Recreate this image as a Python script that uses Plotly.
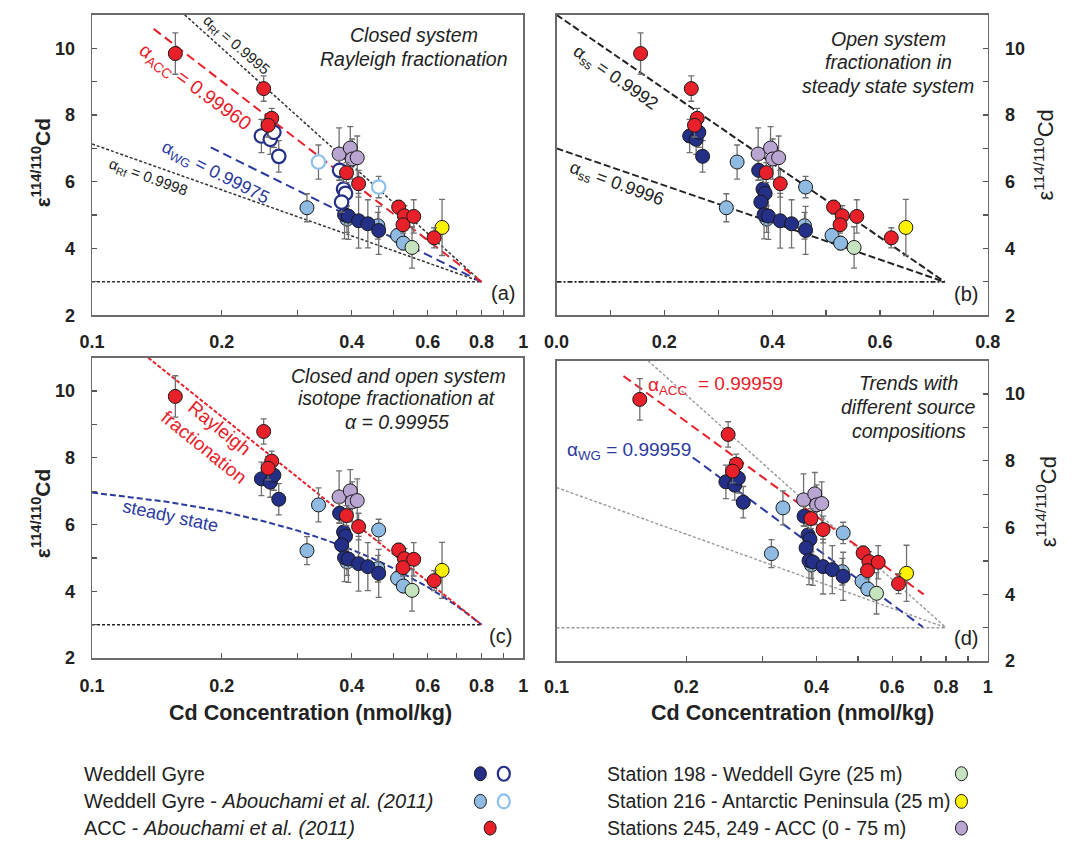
import plotly.graph_objects as go

W, H = 1073, 845
FONT = "Liberation Sans, Arial, sans-serif"

# ---------------- data ----------------
# Weddell Gyre (this study)
wg_x = [0.247, 0.259, 0.264, 0.271, 0.375, 0.383, 0.387, 0.379, 0.385, 0.393, 0.415, 0.436, 0.462]
wg_y = [7.37, 7.27, 7.48, 6.76, 6.34, 5.78, 5.65, 5.39, 5.01, 4.97, 4.83, 4.74, 4.54]
wg_err = [0.5, 0.45, 0.45, 0.47, 0.3, 0.3, 0.3, 0.3, 0.72, 0.7, 0.82, 0.72, 0.72]
wg_open = [1, 1, 1, 1, 1, 1, 1, 1, 0, 0, 0, 0, 0]

# Weddell Gyre - Abouchami et al. (2011)
wga_x = [0.315, 0.335, 0.390, 0.460, 0.462, 0.511, 0.527]
wga_y = [5.22, 6.59, 4.88, 4.68, 5.84, 4.39, 4.16]
wga_err = [0.42, 0.51, 0.4, 0.4, 0.32, 0.2, 0.2]
wga_open = [0, 1, 0, 0, 1, 0, 0]

# ACC - Abouchami et al. (2011)
acc_x = [0.156, 0.250, 0.261, 0.256, 0.389, 0.415, 0.514, 0.530, 0.526, 0.557, 0.621]
acc_y = [9.84, 8.79, 7.90, 7.69, 6.27, 5.94, 5.24, 4.98, 4.71, 4.96, 4.32]
acc_err = [0.62, 0.38, 0.3, 0.35, 0.3, 0.4, 0.2, 0.3, 0.25, 0.5, 0.3]

# Station 198, Station 216, Stations 245/249
s198_x, s198_y, s198_err = [0.552], [4.03], [0.62]
s216_x, s216_y, s216_err = [0.648], [4.63], [0.84]
s245_x = [0.374, 0.397, 0.401, 0.412]
s245_y = [6.83, 7.01, 6.68, 6.72]
s245_err = [0.78, 0.64, 0.6, 0.65]

# model lines
a_rf95_x, a_rf95_y = [0.164, 0.8], [11.0, 3.0]
a_acc_x, a_acc_y = [0.139, 0.8], [10.58, 3.0]
a_wg_x, a_wg_y = [0.1885, 0.8], [7.03, 3.0]
a_rf98_x, a_rf98_y = [0.1, 0.8], [7.13, 3.0]
a_base_x, a_base_y = [0.1, 0.8], [3.0, 3.0]

b_ss92_x, b_ss92_y = [0.0, 0.72], [11.0, 3.0]
b_ss96_x, b_ss96_y = [0.0, 0.72], [7.0, 3.0]
b_base_x, b_base_y = [0.0, 0.72], [3.0, 3.0]

c_ray_x, c_ray_y = [0.135, 0.8], [11.0, 3.0]
c_ss_x = [0.1, 0.15, 0.2, 0.25, 0.3, 0.35, 0.4, 0.45, 0.5, 0.55, 0.6, 0.65, 0.7, 0.75, 0.8]
c_ss_y = [6.96, 6.68, 6.40, 6.10, 5.82, 5.53, 5.25, 4.97, 4.69, 4.41, 4.13, 3.85, 3.57, 3.28, 3.0]
c_base_x, c_base_y = [0.1, 0.8], [3.0, 3.0]

d_up_x, d_up_y = [0.163, 0.8], [11.0, 3.0]
d_lo_x, d_lo_y = [0.1, 0.8], [7.2, 3.0]
d_base_x, d_base_y = [0.1, 0.8], [3.0, 3.0]
d_acc_x, d_acc_y = [0.143, 0.71], [10.54, 4.0]
d_wg_x, d_wg_y = [0.207, 0.707], [8.1, 3.02]

# ticks (labelled + unlabelled minor)
log_ticks = [0.1, 0.2, 0.4, 0.6, 0.8, 1.0]
log_labels = ["0.1", "0.2", "0.4", "0.6", "0.8", "1"]
log_minor = [0.3, 0.5, 0.7, 0.9]
lin_ticks = [0.0, 0.2, 0.4, 0.6, 0.8]
lin_labels = ["0.0", "0.2", "0.4", "0.6", "0.8"]
lin_minor = [0.1, 0.3, 0.5, 0.7]
y_ticks = [2, 4, 6, 8, 10]
y_labels = ["2", "4", "6", "8", "10"]
y_minor = [3, 5, 7, 9, 11]

# ---------------- styles ----------------
C_DB = "#242f88"
C_LB = "#8fbbe3"
C_LB_OPEN = "#8cc0ee"
C_RED = "#e8202a"
C_GREEN = "#c6e3c0"
C_YEL = "#fff200"
C_PUR = "#b9a5d1"
C_BLUE_TXT = "#2b3a9e"
ERR = dict(type="data", visible=True, color="#707070", thickness=1.3, width=3)

fig = go.Figure()


def line(xs, ys, xa, ya, color, dash, width=1.6):
    fig.add_trace(go.Scatter(x=xs, y=ys, mode="lines", xaxis=xa, yaxis=ya,
                             line=dict(color=color, dash=dash, width=width),
                             showlegend=False, hoverinfo="skip"))


def pts(xs, ys, es, xa, ya, fill, edge="#1a1a1a", ew=1.0, size=14):
    if not xs:
        return
    fig.add_trace(go.Scatter(x=xs, y=ys, mode="markers", xaxis=xa, yaxis=ya,
                             error_y=dict(ERR, array=es),
                             marker=dict(size=size, color=fill, line=dict(color=edge, width=ew)),
                             showlegend=False))


def sub(vals, flags, want):
    return [v for v, f in zip(vals, flags) if f == want]


def points(xa, ya, split_open=False):
    pts(s245_x, s245_y, s245_err, xa, ya, C_PUR)
    if split_open:
        pts(sub(wga_x, wga_open, 0), sub(wga_y, wga_open, 0), sub(wga_err, wga_open, 0), xa, ya, C_LB)
        pts(sub(wga_x, wga_open, 1), sub(wga_y, wga_open, 1), sub(wga_err, wga_open, 1), xa, ya,
            "white", C_LB_OPEN, 2.2, 13.5)
        pts(sub(wg_x, wg_open, 0), sub(wg_y, wg_open, 0), sub(wg_err, wg_open, 0), xa, ya, C_DB)
        pts(sub(wg_x, wg_open, 1), sub(wg_y, wg_open, 1), sub(wg_err, wg_open, 1), xa, ya,
            "white", C_DB, 2.2, 13.5)
    else:
        pts(wga_x, wga_y, wga_err, xa, ya, C_LB)
        pts(wg_x, wg_y, wg_err, xa, ya, C_DB)
    pts(s198_x, s198_y, s198_err, xa, ya, C_GREEN)
    pts(s216_x, s216_y, s216_err, xa, ya, C_YEL)
    pts(acc_x, acc_y, acc_err, xa, ya, C_RED)


# panel a
line(a_base_x, a_base_y, "x", "y", "#333", "3px,2px", 1.5)
line(a_rf98_x, a_rf98_y, "x", "y", "#333", "3px,2px", 1.5)
line(a_rf95_x, a_rf95_y, "x", "y", "#333", "3px,2px", 1.5)
line(a_wg_x, a_wg_y, "x", "y", C_BLUE_TXT, "9px,5px", 2)
line(a_acc_x, a_acc_y, "x", "y", C_RED, "9px,5px", 2)
points("x", "y", split_open=True)

# panel b
line(b_base_x, b_base_y, "x2", "y2", "#222", "5px,2px,2px,2px", 1.8)
line(b_ss96_x, b_ss96_y, "x2", "y2", "#222", "7px,3px", 2)
line(b_ss92_x, b_ss92_y, "x2", "y2", "#222", "7px,3px", 2)
points("x2", "y2")

# panel c
line(c_base_x, c_base_y, "x3", "y3", "#222", "3px,2px", 1.6)
line(c_ss_x, c_ss_y, "x3", "y3", C_BLUE_TXT, "6px,3px", 2)
line(c_ray_x, c_ray_y, "x3", "y3", C_RED, "4px,2px", 2)
points("x3", "y3")

# panel d
line(d_base_x, d_base_y, "x4", "y4", "#999", "3px,2px", 1.4)
line(d_lo_x, d_lo_y, "x4", "y4", "#999", "3px,2px", 1.4)
line(d_up_x, d_up_y, "x4", "y4", "#999", "3px,2px", 1.4)
line(d_wg_x, d_wg_y, "x4", "y4", C_BLUE_TXT, "9px,5px", 2)
line(d_acc_x, d_acc_y, "x4", "y4", C_RED, "9px,5px", 2)
points("x4", "y4")

# ---------------- axes ----------------
TICKFONT = dict(family=FONT, size=18, color="#222", weight="bold")


def ax(minor_vals, **kw):
    base = dict(showline=True, linecolor="#6b6b6b", linewidth=1.5, mirror=True,
                ticks="inside", ticklen=5, tickwidth=1.2, tickcolor="#555",
                showgrid=False, zeroline=False, tickfont=TICKFONT,
                minor=dict(tickmode="array", tickvals=minor_vals, ticks="inside",
                           ticklen=5, tickwidth=1.2, tickcolor="#555", showgrid=False))
    base.update(kw)
    return base


def px(x):
    return x / W


def py(y):
    return 1 - y / H


XL = [px(81), px(523)]
XR = [px(557), px(999)]
YT = [py(319), py(15)]
YC = [py(666), py(362)]
YD = [py(669), py(365)]

fig.update_layout(
    width=W, height=H, margin=dict(l=0, r=0, t=0, b=0),
    paper_bgcolor="white", plot_bgcolor="white", showlegend=False,
    xaxis=ax(log_minor, domain=XL, anchor="y", type="log", range=[-1, 0], tickvals=log_ticks,
             ticktext=log_labels, ticklabelstandoff=10),
    yaxis=ax(y_minor, domain=YT, anchor="x", range=[2, 11], tickvals=y_ticks, ticktext=y_labels,
             ticklabelstandoff=12),
    xaxis2=ax(lin_minor, domain=XR, anchor="y2", range=[0, 0.8], tickvals=lin_ticks,
              ticktext=lin_labels, ticklabelstandoff=10),
    yaxis2=ax(y_minor, domain=YT, anchor="x2", side="right", range=[2, 11], tickvals=y_ticks,
              ticktext=y_labels, ticklabelstandoff=12),
    xaxis3=ax(log_minor, domain=XL, anchor="y3", type="log", range=[-1, 0], tickvals=log_ticks,
              ticktext=log_labels, ticklabelstandoff=11),
    yaxis3=ax(y_minor, domain=YC, anchor="x3", range=[2, 11], tickvals=y_ticks, ticktext=y_labels,
              ticklabelstandoff=12),
    xaxis4=ax(log_minor, domain=XR, anchor="y4", type="log", range=[-1, 0], tickvals=log_ticks,
              ticktext=log_labels, ticklabelstandoff=9),
    yaxis4=ax(y_minor, domain=YD, anchor="x4", side="right", range=[2, 11], tickvals=y_ticks,
              ticktext=y_labels, ticklabelstandoff=12),
)

# ---------------- annotations ----------------
anns = []


def note(text, x, y, size=19.5, color="#222", angle=0, xanchor="center", weight="normal"):
    anns.append(dict(text=text, x=px(x), y=py(y), xref="paper", yref="paper",
                     showarrow=False, xanchor=xanchor, yanchor="middle", textangle=angle,
                     font=dict(family=FONT, size=size, color=color, weight=weight)))


# panel headers
note("<i>Closed system</i>", 411, 35)
note("<i>Rayleigh fractionation</i>", 411, 60)
note("<i>Open system</i>", 897, 39)
note("<i>fractionation in</i>", 897, 63)
note("<i>steady state system</i>", 897, 87)
note("<i>Closed and open system</i>", 395, 380)
note("<i>isotope fractionation at</i>", 394, 403)
note("<i>α = 0.99955</i>", 394, 427)
note("<i>Trends with</i>", 918, 388)
note("<i>different source</i>", 918, 412)
note("<i>compositions</i>", 918, 436)

note("(a)", 502, 297, 20)
note("(b)", 977, 298, 20)
note("(c)", 500, 644, 20)
note("(d)", 977, 646, 20)

# line labels
note("α<sub>Rf</sub> = 0.9995", 229, 46, 15, "#222", 41)
note("α<sub>ACC</sub> = 0.99960", 186, 89, 19.5, C_RED, 36)
note("α<sub>WG</sub> = 0.99975", 207, 176, 18, C_BLUE_TXT, 27)
note("α<sub>Rf</sub> = 0.9998", 138, 180, 15, "#222", 20)
note("α<sub>ss</sub> = 0.9992", 617, 79, 18, "#222", 35)
note("α<sub>ss</sub> = 0.9996", 618, 187, 18, "#222", 20)
note("Rayleigh<br>fractionation", 204, 443, 19, C_RED, 39)
note("steady state", 161, 522, 18, C_BLUE_TXT, 12)
note("α<sub>ACC</sub>", 671, 391, 19, C_RED)
note("= 0.99959", 746, 388, 19, C_RED)
note("α<sub>WG</sub> = 0.99959", 631, 456, 19, C_BLUE_TXT)

# axis titles
YT_TXT = "ε<sup>114/110</sup>Cd"
note(YT_TXT, 29, 165, 21, "#222", -90, weight="bold")
note(YT_TXT, 29, 520, 21, "#222", -90, weight="bold")
note(YT_TXT, 1057, 157, 22, "#222", -90)
note(YT_TXT, 1059, 508, 22, "#222", -90)
note("Cd Concentration (nmol/kg)", 305, 722, 21.5, "#222", weight="bold")
note("Cd Concentration (nmol/kg)", 799, 722, 21.5, "#222", weight="bold")

# legend texts
leg_left = ["Weddell Gyre",
            "Weddell Gyre - <i>Abouchami et al. (2011)</i>",
            "ACC - <i>Abouchami et al. (2011)</i>"]
leg_right = ["Station 198 - Weddell Gyre (25 m)",
             "Station 216 - Antarctic Peninsula (25 m)",
             "Stations 245, 249 - ACC (0 - 75 m)"]
rows = [783, 811, 838]
for t, r in zip(leg_left, rows):
    note(t, 71, r, 20, "#222", xanchor="left")
for t, r in zip(leg_right, rows):
    note(t, 607, r, 19.5, "#222", xanchor="left")

fig.update_layout(annotations=anns)

# legend markers
shapes = []


def dot(x, y, fill, edge="#1a1a1a", w=1.0):
    shapes.append(dict(type="circle", xref="paper", yref="paper",
                       xsizemode="pixel", ysizemode="pixel",
                       xanchor=px(x), yanchor=py(y), x0=-6, x1=6, y0=-7, y1=7,
                       fillcolor=fill, line=dict(color=edge, width=w)))


dot(479, rows[0], C_DB)
dot(503, rows[0], "white", C_DB, 2.2)
dot(479, rows[1], C_LB)
dot(503, rows[1], "white", C_LB_OPEN, 2.2)
dot(489, rows[2], C_RED)
dot(972, rows[0], C_GREEN)
dot(972, rows[1], C_YEL)
dot(972, rows[2], C_PUR)
fig.update_layout(shapes=shapes)

fig.write_html("out.html", config={"displayModeBar": False, "staticPlot": True},
               post_script="document.body.style.margin='0';document.body.style.overflow='hidden';")
